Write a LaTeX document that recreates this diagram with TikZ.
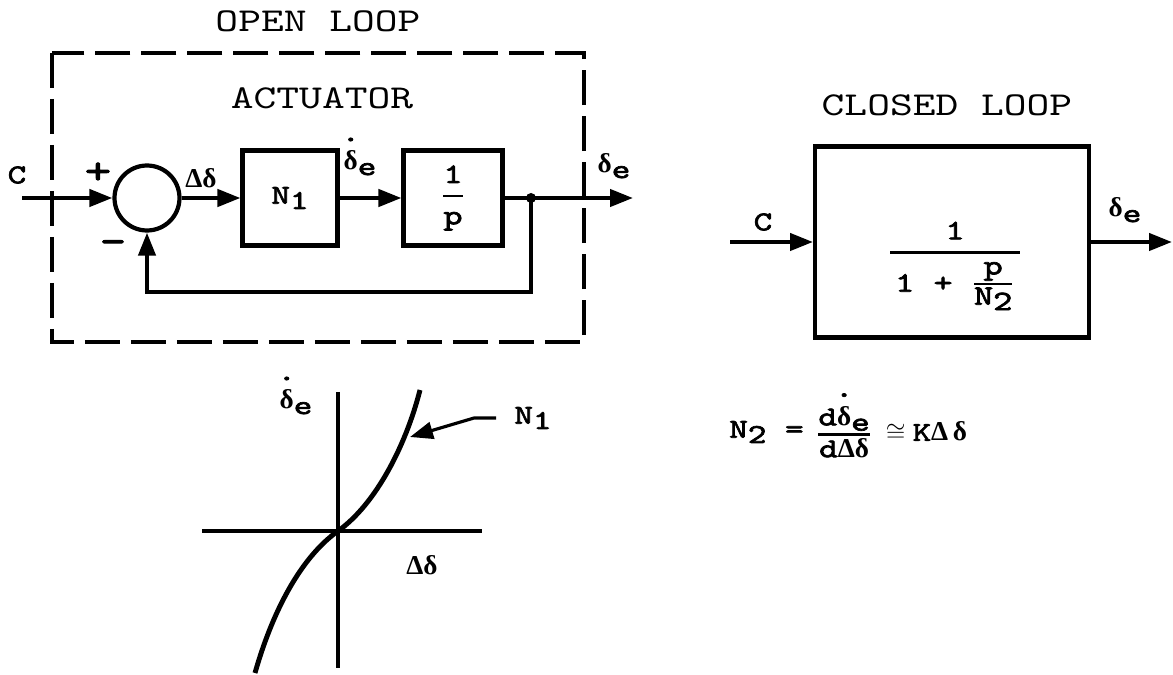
\documentclass[tikz,border=0pt]{standalone}
\usepackage{amsmath}
\usepackage{fontspec}
\setmainfont{lmmono10-regular.otf}[BoldFont=lmmono10-regular.otf, BoldFeatures={FakeBold=2.5}, FakeStretch=1.3]
\newfontfamily\grk{Liberation Serif}
\usetikzlibrary{arrows.meta}

\newcommand{\lowr}[1]{\raisebox{-0.45ex}{#1}}
\newcommand{\dl}{{\grk δ}}
\newcommand{\Dl}{{\grk Δ}}
\newcommand{\dotdel}{\ooalign{\dl\cr\hidewidth\raisebox{1.05em}{.}\hidewidth\cr}}

\begin{document}
\begin{tikzpicture}[x=0.02cm, y=-0.02cm, >={Triangle[length=0.46cm,width=0.34cm]},
  every node/.style={inner sep=0pt},
  title/.style={font=\fontsize{19}{20}\selectfont},
  lbl/.style={font=\fontsize{15.5}{16}\selectfont\bfseries},
  blk/.style={draw, line width=2.3pt, lbl},
  sig/.style={line width=2.4pt}]
\useasboundingbox (0,0) rectangle (1173,675);

% open loop: actuator inside a dashed frame
\node[title] (olt) at (318,21) {OPEN LOOP};
\draw[line width=2pt, dash pattern=on 0.7cm off 0.22cm] (52,53) rectangle (584,342);
\node[title] (act) at (322,98) {ACTUATOR};

\node[draw, circle, line width=2.4pt, minimum size=1.3cm] (sum) at (147,198) {};
\node[blk, minimum width=1.9cm, minimum height=1.9cm] (n1) at (290,198) {N\lowr{1}};
\node[blk, minimum width=1.98cm, minimum height=1.9cm, font=\fontsize{16}{16}\selectfont\bfseries] (ip) at (453,198)
  {$\displaystyle\genfrac{}{}{1.4pt}{}{\hbox{1}}{\hbox{p}}$};
\coordinate (cin) at (22,198);
\coordinate (jn) at (531,198);
\coordinate (out) at (633,198);
\fill (jn) circle (0.1cm);

\draw[sig,->] (cin) -- (sum.west);
\draw[sig,->] (sum.east) -- (n1.west);
\draw[sig,->] (n1.east) -- (ip.west);
\draw[sig,->] (ip.east) -- (jn) -- (out);
\draw[sig,->] (jn) -- (jn |- 0,292) -| (sum.south);

\node[lbl] (c1) at (17,175) {C};
\node[lbl, font=\fontsize{22}{22}\selectfont\bfseries] (plus) at (98,173) {+};
\node[lbl, font=\fontsize{22}{22}\selectfont\bfseries] (minus) at (113,247) {-};
\node[lbl] (dd1) at (201,178) {\Dl\dl};
\node[lbl] (rate1) at (360,163) {\dotdel\lowr{e}};
\node[lbl] (de1) at (614,166) {\dl\lowr{e}};

% closed loop
\node[title] (clt) at (947,105) {CLOSED LOOP};
\node[blk, minimum width=5.48cm, minimum height=3.82cm] (cl) at (952,242) {};
\node[lbl, font=\fontsize{16}{16}\selectfont\bfseries] (tf) at (955,266)
  {$\displaystyle\genfrac{}{}{1.6pt}{}{\hbox{1}}{\hbox{\,1 + }\genfrac{}{}{1.3pt}{}{\hbox{p}}{\hbox{N\lowr{2}}}\,}$};
\coordinate (cin2) at (730,242);
\coordinate (out2) at (1172,242);
\draw[sig,->] (cin2) -- (cl.west);
\draw[sig,->] (cl.east) -- (out2);
\node[lbl] (c2) at (763,222) {C};
\node[lbl] (de2) at (1125,210) {\dl\lowr{e}};

% characteristic of N1
\draw[line width=2.2pt] (202,531) -- (482,531);
\draw[line width=2.2pt] (338,392) -- (338,668);
\draw[line width=2.8pt] (255,673) .. controls (272,613) and (300,558) .. (338,531)
  .. controls (376,504) and (406,445) .. (420,390);
\node[lbl] (rate2) at (296,402) {\dotdel\lowr{e}};
\node[lbl] (dd2) at (422,565) {\Dl\dl};
\node[lbl] (n1lbl) at (533,418) {N\lowr{1}};
\coordinate (onc) at (410,437);
\draw[line width=1.8pt,->] (n1lbl.west) ++(-18,0) -- ++(-22,0) -- (onc);

% slope of the characteristic
\node[lbl, anchor=east] (n2eq) at (804,432) {N\lowr{2} =};
\node[lbl, anchor=west] (slope) at (816,432)
  {$\genfrac{}{}{1.4pt}{}{\hbox{d\dotdel\lowr{e}}}{\hbox{d\Dl\dl}}\;\cong\;$K\Dl\,\dl};
\end{tikzpicture}
\end{document}
